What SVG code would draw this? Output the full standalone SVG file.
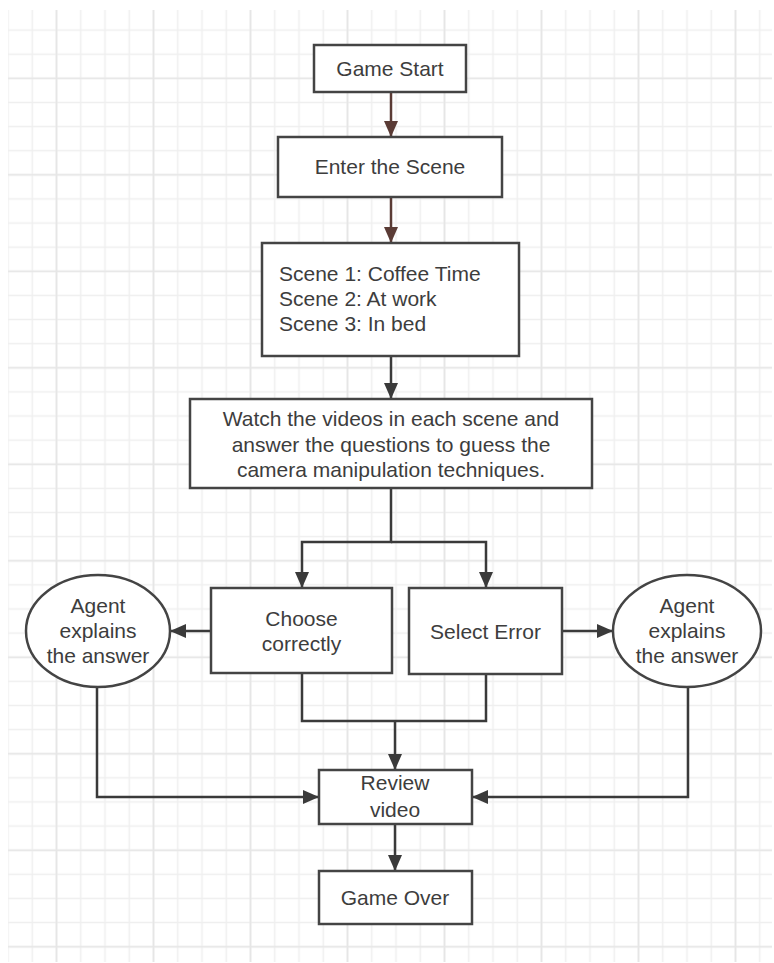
<svg xmlns="http://www.w3.org/2000/svg" width="774" height="963" viewBox="0 0 774 963">
<style>
.box{fill:#fff;stroke:#444;stroke-width:2.5}
.t{font-family:"Liberation Sans",Arial,sans-serif;font-size:21px;fill:#3d3d3d}
.c{text-anchor:middle}
.ln{fill:none;stroke:#3a3a3a;stroke-width:2.5}
.br{fill:none;stroke:#5a3b35;stroke-width:2.5}
</style>
<defs>
<marker id="ah" markerUnits="userSpaceOnUse" markerWidth="16" markerHeight="14" refX="16" refY="7" orient="auto"><path d="M0,0 L16,7 L0,14 z" fill="#3a3a3a"/></marker>
<marker id="ahb" markerUnits="userSpaceOnUse" markerWidth="16" markerHeight="14" refX="16" refY="7" orient="auto"><path d="M0,0 L16,7 L0,14 z" fill="#5a3b35"/></marker>
<pattern id="gv" patternUnits="userSpaceOnUse" x="-4.125" y="0" width="24.25" height="963"><line x1="12.125" y1="0" x2="12.125" y2="963" stroke="#efefef" stroke-width="1.5"/></pattern>
<pattern id="gV" patternUnits="userSpaceOnUse" x="8" y="0" width="97" height="963"><line x1="48.5" y1="0" x2="48.5" y2="963" stroke="#e6e6e6" stroke-width="1.7"/></pattern>
<pattern id="gh" patternUnits="userSpaceOnUse" x="0" y="18.04" width="774" height="24.12"><line x1="0" y1="12.06" x2="774" y2="12.06" stroke="#efefef" stroke-width="1.5"/></pattern>
<pattern id="gH" patternUnits="userSpaceOnUse" x="0" y="30.05" width="774" height="96.5"><line x1="0" y1="48.25" x2="774" y2="48.25" stroke="#e6e6e6" stroke-width="1.7"/></pattern>
</defs>
<rect width="774" height="963" fill="#fff"/>
<g id="grid">
<rect x="8" y="10" width="764" height="952" fill="url(#gv)"/>
<rect x="8" y="10" width="764" height="952" fill="url(#gh)"/>
<rect x="8" y="10" width="764" height="952" fill="url(#gV)"/>
<rect x="8" y="10" width="764" height="952" fill="url(#gH)"/>
</g>
<g id="connectors">
<line class="br" x1="391" y1="92" x2="391" y2="137" marker-end="url(#ahb)"/>
<line class="br" x1="391" y1="197" x2="391" y2="243" marker-end="url(#ahb)"/>
<line class="ln" x1="391" y1="356" x2="391" y2="399" marker-end="url(#ah)"/>
<polyline class="ln" points="391,488 391,542 302,542 302,588" marker-end="url(#ah)"/>
<polyline class="ln" points="391,542 486,542 486,588" marker-end="url(#ah)"/>
<line class="ln" x1="211" y1="631" x2="170" y2="631" marker-end="url(#ah)"/>
<line class="ln" x1="562" y1="631" x2="613" y2="631" marker-end="url(#ah)"/>
<polyline class="ln" points="302,673 302,721 486,721 486,674"/>
<line class="ln" x1="395" y1="721" x2="395" y2="770" marker-end="url(#ah)"/>
<polyline class="ln" points="97,687 97,797 319,797" marker-end="url(#ah)"/>
<polyline class="ln" points="688,687 688,797 472,797" marker-end="url(#ah)"/>
<line class="ln" x1="395" y1="824" x2="395" y2="871" marker-end="url(#ah)"/>
</g>
<g id="game-start"><rect class="box" x="314" y="45" width="152" height="47"/><text class="t c" x="390" y="76">Game Start</text></g>
<g id="enter-scene"><rect class="box" x="278" y="137" width="224" height="60"/><text class="t c" x="390" y="174">Enter the Scene</text></g>
<g id="scenes"><rect class="box" x="262" y="243" width="257" height="113"/>
<text class="t" x="279" y="281">Scene 1: Coffee Time</text>
<text class="t" x="279" y="306">Scene 2: At work</text>
<text class="t" x="279" y="331">Scene 3: In bed</text></g>
<g id="watch"><rect class="box" x="190" y="399" width="402" height="89"/>
<text class="t c" x="391" y="426">Watch the videos in each scene and</text>
<text class="t c" x="391" y="451.5">answer the questions to guess the</text>
<text class="t c" x="391" y="477">camera manipulation techniques.</text></g>
<g id="choose-correctly"><rect class="box" x="211" y="588" width="181" height="85"/>
<text class="t c" x="301.5" y="626">Choose</text>
<text class="t c" x="301.5" y="651">correctly</text></g>
<g id="select-error"><rect class="box" x="409" y="588" width="153" height="86"/>
<text class="t c" x="485.5" y="639">Select Error</text></g>
<g id="agent-left"><ellipse class="box" cx="98" cy="631" rx="72" ry="56"/>
<text class="t c" x="98" y="613">Agent</text>
<text class="t c" x="98" y="638">explains</text>
<text class="t c" x="98" y="663">the answer</text></g>
<g id="agent-right"><ellipse class="box" cx="687" cy="631" rx="74" ry="56"/>
<text class="t c" x="687" y="613">Agent</text>
<text class="t c" x="687" y="638">explains</text>
<text class="t c" x="687" y="663">the answer</text></g>
<g id="review"><rect class="box" x="319" y="770" width="153" height="54"/>
<text class="t c" x="395" y="790">Review</text>
<text class="t c" x="395" y="817">video</text></g>
<g id="game-over"><rect class="box" x="319" y="871" width="153" height="53"/>
<text class="t c" x="395" y="905">Game Over</text></g>
</svg>
